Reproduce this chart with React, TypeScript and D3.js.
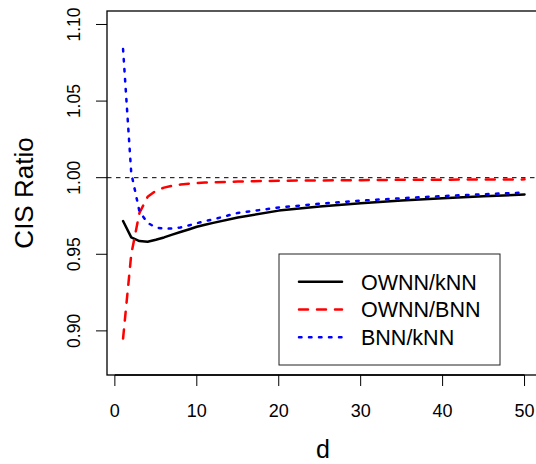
import React from "react";
import * as d3 from "d3";

const dValues = [1, 2, 3, 4, 5, 6, 7, 8, 9, 10, 11, 12, 15, 20, 25, 30, 35, 40, 45, 50];
const ownnKnn = [0.9717, 0.961, 0.9586, 0.9582, 0.9595, 0.961, 0.9628, 0.9645, 0.9662, 0.968, 0.9693, 0.9705, 0.974, 0.9785, 0.9812, 0.9833, 0.9851, 0.9865, 0.9878, 0.989];
const ownnBnn = [0.895, 0.95, 0.977, 0.9875, 0.9915, 0.9935, 0.9947, 0.9955, 0.996, 0.9965, 0.9968, 0.997, 0.9975, 0.998, 0.9982, 0.9984, 0.9986, 0.9987, 0.9988, 0.9989];
const bnnKnn = [1.084, 1.003, 0.978, 0.9705, 0.9675, 0.9667, 0.9668, 0.9675, 0.9688, 0.9703, 0.9716, 0.9728, 0.977, 0.9805, 0.983, 0.985, 0.9866, 0.988, 0.9892, 0.9903];
const xTicks = [0, 10, 20, 30, 40, 50];
const yTicks = [0.9, 0.95, 1.0, 1.05, 1.1];
const yTickLabels = ["0.90", "0.95", "1.00", "1.05", "1.10"];
const seriesNames = ["OWNN/kNN", "OWNN/BNN", "BNN/kNN"];

const FONT = "'Liberation Sans', Arial, Helvetica, sans-serif";

export default function App() {
  const W = 536, H = 464;
  const left = 107, right = 540.6, top = 11, bottom = 375;
  const x = d3.scaleLinear().domain([-0.96, 51.96]).range([left, right]);
  const y = d3.scaleLinear().domain([0.8712, 1.1088]).range([bottom, top]);

  const line = d3.line<[number, number]>().x(p => x(p[0])).y(p => y(p[1])).curve(d3.curveLinear);
  const mk = (vals: number[]) => line(dValues.map((d, i) => [d, vals[i]] as [number, number])) || "";

  const styles = [
    { color: "#000000", dash: "none" },
    { color: "#ff0000", dash: "9,9" },
    { color: "#0000ff", dash: "2.5,7.5" },
  ];
  const series = [ownnKnn, ownnBnn, bnnKnn];

  const legX = 279, legY = 254, legW = 221, legH = 111;
  const rowYs = [281.7, 309.5, 337.3];

  return (
    <svg width={W} height={H} style={{ position: "absolute", left: 0, top: 0, background: "#fff" }}>
      <rect x={0} y={0} width={W} height={H} fill="#fff" />
      <defs>
        <clipPath id="plotclip">
          <rect x={left} y={top} width={right - left} height={bottom - top} />
        </clipPath>
      </defs>
      <line x1={left} x2={right} y1={y(1)} y2={y(1)} stroke="#000" strokeWidth={1} strokeDasharray="4.5,4.5" />
      <g clipPath="url(#plotclip)">
        {series.map((s, i) => (
          <path key={i} d={mk(s)} fill="none" stroke={styles[i].color} strokeWidth={2.5}
            strokeDasharray={styles[i].dash} strokeLinecap="round" strokeLinejoin="round" />
        ))}
      </g>
      <rect x={left} y={top} width={right - left} height={bottom - top} fill="none" stroke="#000" strokeWidth={1.3} />
      <line x1={x(0)} x2={x(50)} y1={bottom} y2={bottom} stroke="#000" strokeWidth={1.3} />
      {xTicks.map(t => (
        <g key={t}>
          <line x1={x(t)} x2={x(t)} y1={bottom} y2={bottom + 11} stroke="#000" strokeWidth={1} />
          <text x={x(t)} y={416.5} textAnchor="middle" fontFamily={FONT} fontSize={18}>{t}</text>
        </g>
      ))}
      {yTicks.map((t, i) => (
        <g key={t}>
          <line x1={left - 11} x2={left} y1={y(t)} y2={y(t)} stroke="#000" strokeWidth={1} />
          <text transform={`translate(80,${y(t)}) rotate(-90)`} textAnchor="middle" fontFamily={FONT} fontSize={17.5}>{yTickLabels[i]}</text>
        </g>
      ))}
      <text x={323} y={458} textAnchor="middle" fontFamily={FONT} fontSize={25}>d</text>
      <text transform={`translate(33,193) rotate(-90)`} textAnchor="middle" fontFamily={FONT} fontSize={26}>CIS Ratio</text>
      <rect x={legX} y={legY} width={legW} height={legH} fill="#fff" stroke="#222" strokeWidth={1} />
      {seriesNames.map((n, i) => (
        <g key={n}>
          <line x1={299} x2={342} y1={rowYs[i]} y2={rowYs[i]} stroke={styles[i].color} strokeWidth={2.5}
            strokeDasharray={styles[i].dash} strokeLinecap="round" />
          <text x={361} y={rowYs[i] + 7.8} fontFamily={FONT} fontSize={21.5}>{n}</text>
        </g>
      ))}
    </svg>
  );
}
